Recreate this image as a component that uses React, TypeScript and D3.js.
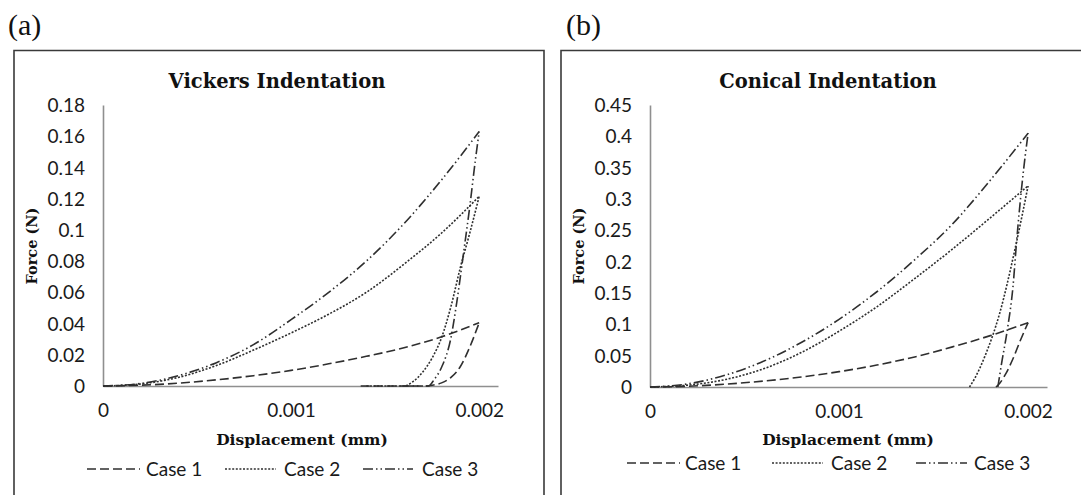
import React from "react";
import * as d3 from "d3";

// [displacement (mm), force (N)], loading up to the peak then unloading
const vickersCase1 = [
  [0, 0], [0.0002, 0.0005], [0.0004, 0.0018], [0.0006, 0.0039], [0.0008, 0.0066],
  [0.001, 0.01], [0.0012, 0.0142], [0.0014, 0.019], [0.0016, 0.0245], [0.0018, 0.0315],
  [0.002, 0.0405], [0.00195, 0.025], [0.0019, 0.0125], [0.00185, 0.0055], [0.0018, 0.002],
  [0.00175, 0.0005], [0.0017, 0], [0.00137, 0],
];
const vickersCase2 = [
  [0, 0], [0.0002, 0.0013], [0.0004, 0.0055], [0.0006, 0.013], [0.0008, 0.023],
  [0.001, 0.034], [0.0012, 0.046], [0.0014, 0.06], [0.0016, 0.078], [0.0018, 0.098],
  [0.002, 0.1215], [0.00195, 0.098], [0.0019, 0.076], [0.00185, 0.051], [0.0018, 0.031],
  [0.00175, 0.018], [0.0017, 0.009], [0.00165, 0.003], [0.0016, 0], [0.0014, 0],
];
const vickersCase3 = [
  [0, 0], [0.0002, 0.0016], [0.0004, 0.0066], [0.0006, 0.0148], [0.0008, 0.0265],
  [0.001, 0.0425], [0.0012, 0.06], [0.0014, 0.08], [0.0016, 0.104], [0.0018, 0.132],
  [0.002, 0.163], [0.00198, 0.145], [0.00195, 0.115], [0.00192, 0.088], [0.00188, 0.053],
  [0.00185, 0.031], [0.0018, 0.012], [0.00176, 0.004], [0.00173, 0], [0.0016, 0],
];

const conicalCase1 = [
  [0, 0], [0.0002, 0.0012], [0.0004, 0.0045], [0.0006, 0.0095], [0.0008, 0.016],
  [0.001, 0.0245], [0.0012, 0.035], [0.0014, 0.048], [0.0016, 0.064], [0.0018, 0.082],
  [0.002, 0.1027], [0.00196, 0.075], [0.00192, 0.045], [0.00188, 0.02], [0.00185, 0.006],
  [0.00183, 0],
];
const conicalCase2 = [
  [0, 0], [0.0002, 0.003], [0.0004, 0.012], [0.0006, 0.029], [0.0008, 0.055],
  [0.001, 0.089], [0.0012, 0.128], [0.0014, 0.173], [0.0016, 0.22], [0.0018, 0.27],
  [0.002, 0.321], [0.00193, 0.219], [0.00185, 0.118], [0.00177, 0.048], [0.00172, 0.015],
  [0.00169, 0],
];
const conicalCase3 = [
  [0, 0], [0.0002, 0.005], [0.0004, 0.019], [0.0006, 0.041], [0.0008, 0.071],
  [0.001, 0.108], [0.0012, 0.152], [0.0014, 0.203], [0.0016, 0.26], [0.0018, 0.33],
  [0.002, 0.405], [0.00197, 0.33], [0.00194, 0.235], [0.00192, 0.16], [0.00189, 0.091],
  [0.00186, 0.038], [0.00184, 0],
];

const caseNames = ["Case 1", "Case 2", "Case 3"];
const dispTicks = [0, 0.001, 0.002];
const vickersTicks = [0, 0.02, 0.04, 0.06, 0.08, 0.1, 0.12, 0.14, 0.16, 0.18];
const conicalTicks = [0, 0.05, 0.1, 0.15, 0.2, 0.25, 0.3, 0.35, 0.4, 0.45];

const dashes = ["9,4", "2,1.6", "10,3,1.5,3,1.5,3"];
const tickFont = "Lato, 'Open Sans', sans-serif";
const serifBold = "'DejaVu Serif', serif";

const panels = [
  {
    tag: "(a)", title: "Vickers Indentation", series: [vickersCase1, vickersCase2, vickersCase3],
    yTicks: vickersTicks, yMax: 0.18,
    frameX: 14, frameR: 544, tagX: 8,
    left: 103, right: 498, top: 105, bottom: 386,
    titleX: 277, forceX: 37, dispX: 302, legendY: 469,
    legendLine: [[87, 140], [225, 276], [363, 413]], legendText: [146, 284, 422],
  },
  {
    tag: "(b)", title: "Conical Indentation", series: [conicalCase1, conicalCase2, conicalCase3],
    yTicks: conicalTicks, yMax: 0.45,
    frameX: 561, frameR: 1092, tagX: 566,
    left: 650, right: 1047, top: 105, bottom: 387,
    titleX: 828, forceX: 584, dispX: 848, legendY: 463,
    legendLine: [[627, 680], [772, 823], [916, 967]], legendText: [685, 831, 974],
  },
];

const Panel = ({ p }) => {
  const gRef = React.useRef(null);

  React.useEffect(() => {
    const g = d3.select(gRef.current);
    g.selectAll("*").remove();

    const x = d3.scaleLinear().domain([0, 0.0021]).range([p.left, p.right]);
    const y = d3.scaleLinear().domain([0, p.yMax]).range([p.bottom, p.top]);

    // outer frame (runs off the bottom of the picture)
    g.append("path")
      .attr("d", `M${p.frameX},${520}V${50.5}H${p.frameR}V${520}`)
      .attr("fill", "none")
      .attr("stroke", "#3a3a3a")
      .attr("stroke-width", 1.6);

    g.append("text")
      .attr("x", p.tagX).attr("y", 35)
      .attr("font-family", "'Liberation Serif', serif")
      .attr("font-size", 30)
      .attr("fill", "#111")
      .text(p.tag);

    g.append("text")
      .attr("x", p.titleX).attr("y", 88)
      .attr("text-anchor", "middle")
      .attr("font-family", serifBold).attr("font-weight", "bold")
      .attr("font-size", 19.5)
      .attr("fill", "#111")
      .text(p.title);

    // axes, no tick marks
    const yAxis = d3.axisLeft(y).tickValues(p.yTicks).tickSize(0).tickPadding(18)
      .tickFormat((d) => `${+d.toFixed(2)}`);
    const yg = g.append("g").attr("transform", `translate(${p.left},0)`).call(yAxis);
    yg.select(".domain").attr("stroke", "#8f8f8f").attr("stroke-width", 1.6);
    yg.selectAll("text")
      .attr("font-family", tickFont).attr("font-size", 19).attr("fill", "#1a1a1a")
      .attr("dy", "0.35em");

    const xAxis = d3.axisBottom(x).tickValues(dispTicks).tickSize(0).tickPadding(18)
      .tickFormat((d) => `${d}`);
    const xg = g.append("g").attr("transform", `translate(0,${p.bottom})`).call(xAxis);
    xg.select(".domain").attr("stroke", "#8f8f8f").attr("stroke-width", 1.6);
    xg.selectAll("text")
      .attr("font-family", tickFont).attr("font-size", 19).attr("fill", "#1a1a1a");

    g.append("text")
      .attr("x", p.dispX).attr("y", 445)
      .attr("text-anchor", "middle")
      .attr("font-family", serifBold).attr("font-weight", "bold")
      .attr("font-size", 15.5).attr("fill", "#111")
      .text("Displacement (mm)");

    g.append("text")
      .attr("transform", `translate(${p.forceX},246) rotate(-90)`)
      .attr("text-anchor", "middle")
      .attr("font-family", serifBold).attr("font-weight", "bold")
      .attr("font-size", 14.5).attr("fill", "#111")
      .text("Force (N)");

    // curves: loading branch and unloading branch, split at the peak
    const line = d3.line()
      .x((d) => x(d[0]))
      .y((d) => y(d[1]))
      .curve(d3.curveMonotoneX);

    p.series.forEach((s, i) => {
      const peak = d3.maxIndex(s, (d) => d[1]);
      const loading = s.slice(0, peak + 1);
      const unloading = s.slice(peak).reverse();
      [loading, unloading].forEach((branch) => {
        g.append("path")
          .attr("fill", "none")
          .attr("stroke", "#2f2f2f")
          .attr("stroke-width", 1.6)
          .attr("stroke-dasharray", dashes[i])
          .attr("d", line(branch));
      });
    });

    // legend
    const lg = g.append("g");
    caseNames.forEach((name, i) => {
      lg.append("line")
        .attr("x1", p.legendLine[i][0]).attr("x2", p.legendLine[i][1])
        .attr("y1", p.legendY).attr("y2", p.legendY)
        .attr("stroke", "#2f2f2f").attr("stroke-width", 1.6)
        .attr("stroke-dasharray", dashes[i]);
      lg.append("text")
        .attr("x", p.legendText[i]).attr("y", p.legendY + 7)
        .attr("font-family", tickFont).attr("font-size", 19).attr("fill", "#1a1a1a")
        .text(name);
    });
  }, [p]);

  return <g ref={gRef} />;
};

export default function App() {
  return (
    <svg
      width={1081}
      height={495}
      style={{ position: "absolute", left: 0, top: 0, background: "#fff" }}
    >
      <rect width={1081} height={495} fill="#fff" />
      {panels.map((p) => (
        <Panel key={p.tag} p={p} />
      ))}
    </svg>
  );
}
